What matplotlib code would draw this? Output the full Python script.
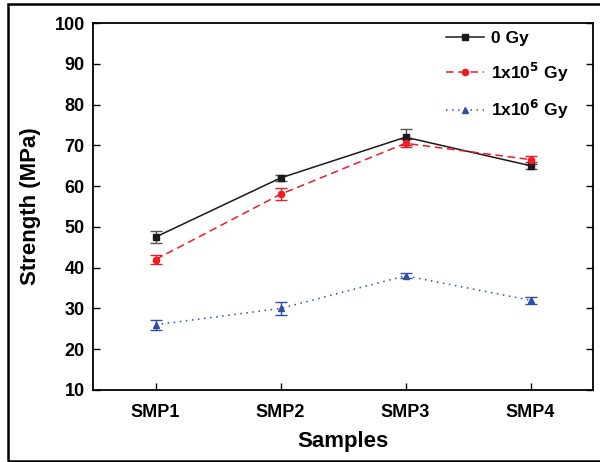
import matplotlib.pyplot as plt
from matplotlib.lines import Line2D
from matplotlib.patches import Rectangle

samples = ["SMP1", "SMP2", "SMP3", "SMP4"]
strength_0 = [47.5, 62.0, 72.0, 65.0]
err_0 = [1.5, 0.7, 2.0, 0.8]
strength_1e5 = [42.0, 58.0, 70.5, 66.5]
err_1e5 = [1.0, 1.5, 1.0, 1.0]
strength_1e6 = [26.0, 30.0, 38.0, 32.0]
err_1e6 = [1.2, 1.5, 0.6, 0.8]

plt.rcParams['font.family'] = ['Liberation Sans', 'DejaVu Sans']
plt.rcParams['font.weight'] = 'bold'
plt.rcParams['mathtext.default'] = 'bf'

fig = plt.figure(figsize=(6, 4.62), dpi=100)
ax = fig.add_axes([93 / 600, 1 - 390 / 462, 500 / 600, 367 / 462])

xpos = [1, 2, 3, 4]
styles = [
    (strength_0, err_0, '#1a1a1a', '#555555', 's', 4, '-', '0 Gy'),
    (strength_1e5, err_1e5, '#ee1c24', '#ee1c24', 'o', 4.5, (0, (5, 3)), '1x10$^5$ Gy'),
    (strength_1e6, err_1e6, '#2e4fa8', '#2e4fa8', '^', 5, (0, (1, 3)), '1x10$^6$ Gy'),
]
handles = []
for vals, err, col, ecol, mk, ms, ls, lab in styles:
    ax.errorbar(xpos, vals, yerr=err, color=col, ecolor=ecol, marker=mk, markersize=ms,
                lw=1.1, ls=ls, capsize=4, elinewidth=1)
    handles.append(Line2D([], [], color=col, marker=mk, markersize=ms, lw=1.1, ls=ls, label=lab))

ax.set_xlim(0.5, 4.5)
ax.set_ylim(10, 100)
ax.set_yticks(range(10, 101, 10))
ax.set_xticks(xpos)
ax.set_xticklabels(samples)
ax.tick_params(direction='in', length=5, width=1, labelsize=13, right=True)
ax.tick_params(axis='x', pad=10)
ax.tick_params(axis='y', pad=6)
for s in ax.spines.values():
    s.set_linewidth(1.3)
ax.set_xlabel('Samples', fontsize=16, fontweight='bold', labelpad=7)
ax.set_ylabel('Strength (MPa)', fontsize=16, fontweight='bold', labelpad=10)

leg = ax.legend(handles=handles, loc='upper left', bbox_to_anchor=(0.675, 1.022), frameon=False,
                fontsize=12.5, handlelength=2.2, labelspacing=0.85, handletextpad=0.4)

fig.patches.append(Rectangle((8 / 600, 1 / 462), 1.2, 1 - 5 / 462, transform=fig.transFigure,
                             fill=False, ec='black', lw=1.8))

fig.savefig('out.png', dpi=100)
